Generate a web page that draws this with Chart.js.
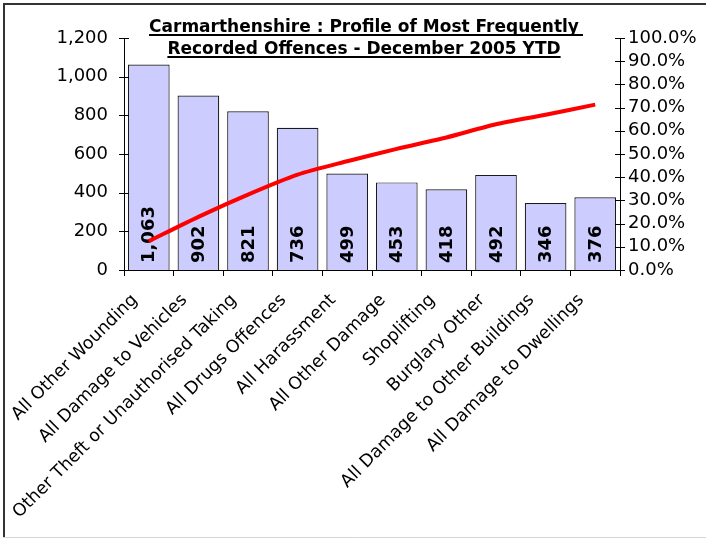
<!DOCTYPE html>
<html><head><meta charset="utf-8">
<script src="https://cdn.jsdelivr.net/npm/chart.js@4/dist/chart.umd.min.js"></script>
<style>html,body{margin:0;padding:0;background:#fff}canvas{display:block}</style>
</head><body>
<canvas id="c" width="706" height="541"></canvas>
<script>
const categories = ["All Other Wounding","All Damage to Vehicles","Other Theft or Unauthorised Taking","All Drugs Offences","All Harassment","All Other Damage","Shoplifting","Burglary Other","All Damage to Other Buildings","All Damage to Dwellings"];
const offenceCounts = [1063, 902, 821, 736, 499, 453, 418, 492, 346, 376];
const cumulativePercent = [12.4, 22.9, 32.5, 41.1, 46.9, 52.2, 57.1, 62.8, 66.9, 71.3];
const titleLines = ["Carmarthenshire : Profile of Most Frequently", "Recorded Offences - December 2005 YTD"];
const FONT = "'DejaVu Sans', Verdana, sans-serif";

const framePlugin = {
  id: 'frame',
  beforeDraw(chart) {
    const ctx = chart.ctx;
    ctx.save();
    ctx.fillStyle = '#fff';
    ctx.fillRect(0, 0, chart.width, chart.height);
    ctx.strokeStyle = '#d5d5d5';
    ctx.lineWidth = 1;
    ctx.beginPath(); ctx.moveTo(3, 537.5); ctx.lineTo(706, 537.5); ctx.stroke();
    ctx.strokeStyle = '#333';
    ctx.lineWidth = 2;
    ctx.beginPath(); ctx.moveTo(4, 537); ctx.lineTo(4, 4); ctx.lineTo(706, 4); ctx.stroke();
    ctx.restore();
  }
};

const crossTicksPlugin = {
  id: 'crossTicks',
  afterDraw(chart) {
    const ctx = chart.ctx;
    const area = chart.chartArea;
    ctx.save();
    ctx.strokeStyle = '#000';
    ctx.lineWidth = 1;
    [['y', area.left], ['y1', area.right]].forEach(([id, x]) => {
      const s = chart.scales[id];
      s.ticks.forEach((t, i) => {
        const py = Math.round(s.getPixelForTick(i)) + 0.5;
        ctx.beginPath();
        ctx.moveTo(x - 5, py); ctx.lineTo(x + 5, py);
        ctx.stroke();
      });
    });
    ctx.restore();
  }
};

const barLabelPlugin = {
  id: 'barLabels',
  afterDatasetDraw(chart, args) {
    if (args.index !== 0) return;
    const ctx = chart.ctx;
    const meta = args.meta;
    const base = chart.scales.y.getPixelForValue(0);
    ctx.save();
    ctx.fillStyle = '#000';
    ctx.font = 'bold 18px ' + FONT;
    ctx.textAlign = 'left';
    ctx.textBaseline = 'middle';
    meta.data.forEach((bar, i) => {
      ctx.save();
      ctx.translate(bar.x + 1, base - 7);
      ctx.rotate(-Math.PI / 2);
      ctx.fillText(offenceCounts[i].toLocaleString('en-US'), 0, 0);
      ctx.restore();
    });
    ctx.restore();
  }
};

const titlePlugin = {
  id: 'underlinedTitle',
  afterDraw(chart) {
    const ctx = chart.ctx;
    ctx.save();
    ctx.fillStyle = '#000';
    ctx.strokeStyle = '#000';
    ctx.font = 'bold 17px ' + FONT;
    ctx.textAlign = 'center';
    ctx.textBaseline = 'alphabetic';
    const cx = 364;
    const baselines = [32, 54];
    titleLines.forEach((line, i) => {
      ctx.fillText(line, cx, baselines[i]);
      const w = ctx.measureText(line).width;
      ctx.lineWidth = 2;
      ctx.beginPath();
      ctx.moveTo(cx - w / 2, baselines[i] + 3);
      ctx.lineTo(cx + w / 2 + (i === 0 ? 4 : 0), baselines[i] + 3);
      ctx.stroke();
    });
    ctx.restore();
  }
};

new Chart(document.getElementById('c'), {
  type: 'bar',
  data: {
    labels: categories,
    datasets: [
      {
        type: 'bar',
        data: offenceCounts,
        backgroundColor: '#CCCCFF',
        borderColor: '#1a1a1a',
        borderWidth: 1.2,
        barPercentage: 0.84,
        categoryPercentage: 1.0,
        yAxisID: 'y',
        order: 1
      },
      {
        type: 'line',
        data: cumulativePercent,
        borderColor: '#FF0000',
        borderWidth: 4,
        pointRadius: 0,
        tension: 0.25,
        fill: false,
        yAxisID: 'y1',
        order: 0
      }
    ]
  },
  options: {
    responsive: false,
    animation: false,
    layout: { padding: { top: 38, left: 0, right: 0, bottom: 0 } },
    plugins: { legend: { display: false }, tooltip: { enabled: false }, title: { display: false } },
    scales: {
      x: {
        offset: true,
        grid: { display: true, drawOnChartArea: false, drawTicks: true, tickLength: 6, color: '#000', offset: true },
        border: { display: true, color: '#000', width: 1 },
        ticks: { color: '#000', font: { family: FONT, size: 17.5 }, minRotation: 45, maxRotation: 45, autoSkip: false, padding: 14, labelOffset: -14 },
        afterFit(s) { s.height = 271; }
      },
      y: {
        position: 'left',
        min: 0, max: 1200,
        grid: { display: false, drawTicks: false },
        border: { display: true, color: '#000', width: 1 },
        ticks: { stepSize: 200, autoSkip: false, color: '#000', padding: 16, font: { family: FONT, size: 18 },
          callback: v => v.toLocaleString('en-US') },
        afterFit(s) { s.width = 124; }
      },
      y1: {
        position: 'right',
        min: 0, max: 100,
        grid: { display: false, drawTicks: false },
        border: { display: true, color: '#000', width: 1 },
        ticks: { stepSize: 10, autoSkip: false, color: '#000', padding: 8, font: { family: FONT, size: 18 },
          callback: v => v.toFixed(1) + '%' },
        afterFit(s) { s.width = 86; }
      }
    }
  },
  plugins: [framePlugin, crossTicksPlugin, barLabelPlugin, titlePlugin]
});
</script>
</body></html>
